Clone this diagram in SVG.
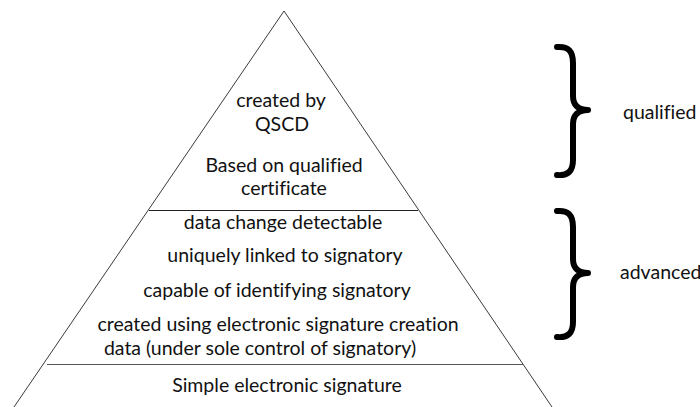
<svg xmlns="http://www.w3.org/2000/svg" width="700" height="407" viewBox="0 0 700 407">
<style>
  .t{font-family:"Lato","Liberation Sans",sans-serif;font-size:19.5px;fill:#111;text-anchor:middle;font-variant-ligatures:none}
  .lbl{font-family:"Lato","Liberation Sans",sans-serif;font-size:19.5px;fill:#111;font-variant-ligatures:none}
  .edge{stroke:#3a3a3a;stroke-width:1;fill:none}
  .brace{stroke:#000;stroke-width:6;fill:none;stroke-linecap:round;stroke-linejoin:round}
</style>
<rect width="700" height="407" fill="#fff"/>
<g id="pyramid">
  <polyline class="edge" points="14,407 284,11 552,407"/>
  <line x1="149" y1="210.5" x2="418" y2="210.5" stroke="#222" stroke-width="1"/>
  <line x1="47" y1="364.5" x2="523" y2="364.5" stroke="#555" stroke-width="1"/>
</g>
<g id="tier-qualified">
  <text class="t" x="281" y="107">created by</text>
  <text class="t" x="282" y="131">QSCD</text>
  <text class="t" x="284" y="172">Based on qualified</text>
  <text class="t" x="284" y="195">certificate</text>
</g>
<g id="tier-advanced">
  <text class="t" x="283" y="229">data change detectable</text>
  <text class="t" x="285" y="262">uniquely linked to signatory</text>
  <text class="t" x="277" y="297">capable of identifying signatory</text>
  <text class="t" x="278" y="331">created using electronic signature creation</text>
  <text class="t" x="260" y="355">data (under sole control of signatory)</text>
</g>
<g id="tier-simple">
  <text class="t" x="287" y="392">Simple electronic signature</text>
</g>
<g id="brace-qualified">
  <path class="brace" d="M557,47 C568,46 573,51 573,63 L573,96 C573,105 578,110 588,110 C578,110 573,115 573,124 L573,160 C573,171 568,176 557,175"/>
  <text class="lbl" x="623" y="119">qualified</text>
</g>
<g id="brace-advanced">
  <path class="brace" d="M557,211 C568,210 573,215 573,227 L573,259 C573,268 578,273 588,273 C578,273 573,278 573,287 L573,322 C573,333 568,338 557,337"/>
  <text class="lbl" x="620" y="279">advanced</text>
</g>
</svg>
